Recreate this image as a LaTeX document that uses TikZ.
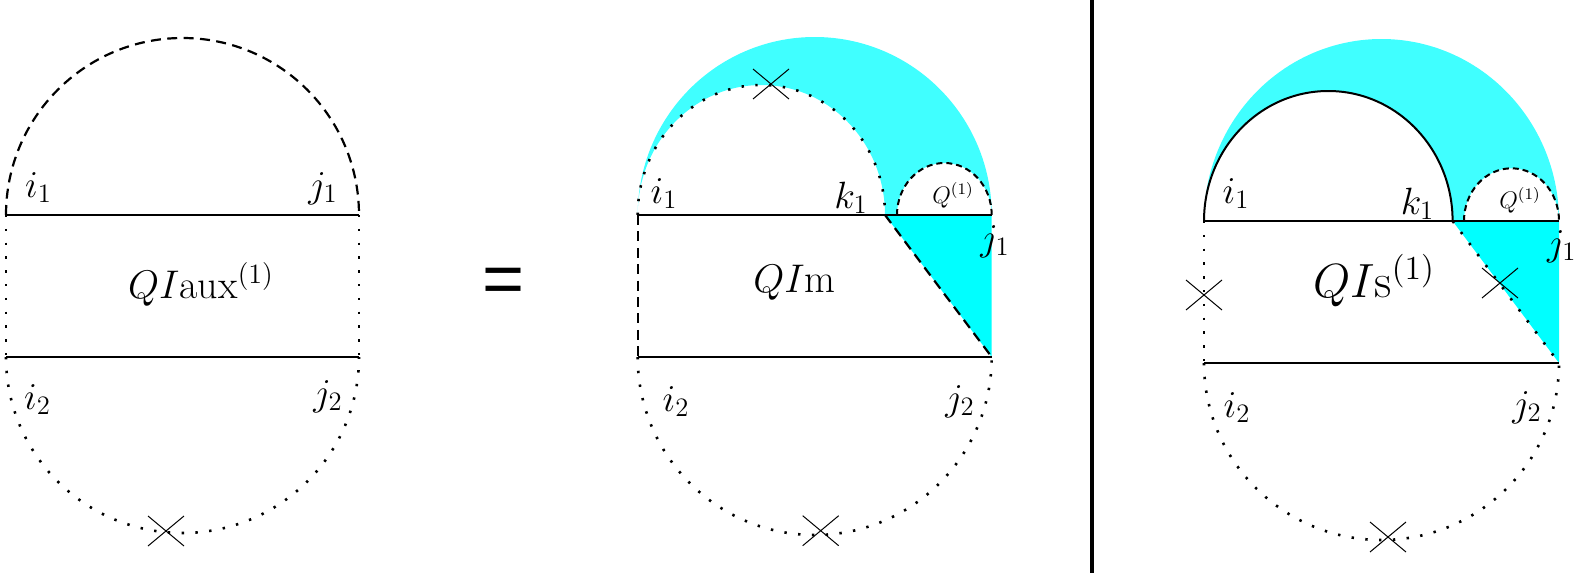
\RequirePackage{fix-cm}
\documentclass[tikz,border=0pt]{standalone}
\usepackage{fontspec}
\newfontfamily\eqfont{Liberation Sans}
\usetikzlibrary{shapes.misc}
\definecolor{upcyan}{RGB}{64,255,255}
\definecolor{lowcyan}{RGB}{0,255,255}
\tikzset{
 solidln/.style={line width=1pt},
 dashln/.style={line width=1.1pt, dash pattern=on 5pt off 3.2pt},
 dotln/.style={line width=1.3pt, dash pattern=on 1.2pt off 5.7pt},
 qdash/.style={line width=1pt, dash pattern=on 3pt off 2pt},
 xmark/.style={draw, cross out, line width=0.5pt, minimum width=17.5pt, minimum height=14.5pt, inner sep=0pt},
 lab/.style={inner sep=0pt, anchor=base, font=\fontsize{19}{22}\selectfont},
 mid/.style={inner sep=0pt, anchor=base, font=\fontsize{20}{24}\selectfont},
 large/.style={inner sep=0pt, anchor=base, font=\fontsize{24}{28}\selectfont},
 tiny/.style={inner sep=0pt, anchor=base, font=\fontsize{12}{14}\selectfont},
}
\begin{document}
\begin{tikzpicture}[x=0.5pt,y=-0.5pt]
\useasboundingbox (0,0) rectangle (1580,573);
% ---------- left figure ----------
\coordinate (aL) at (6,215);
\coordinate (aR) at (359,215);
\coordinate (aBL) at (6,357);
\coordinate (aBR) at (359,357);
\draw[dashln] (aL) arc[start angle=180, end angle=0, x radius=88.25pt, y radius=88.5pt];
\draw[dotln] (aBL) arc[start angle=180, end angle=360, x radius=88.25pt, y radius=88pt];
\draw[solidln] (aL) -- (aR);
\draw[solidln] (aBL) -- (aBR);
\draw[dotln] (aL) -- (aBL);
\draw[dotln] (aR) -- (aBR);
\node[xmark] (ax1) at (166,531) {};
\node[lab] (ai1) at (38.5,197) {$i_1$};
\node[lab] (aj1) at (323,197) {$j_1$};
\node[lab] (ai2) at (37.5,409) {$i_2$};
\node[lab] (aj2) at (328,405) {$j_2$};
\node[mid] (aqi) at (201,298) {$QI\mathrm{aux}^{(1)}$};
% ---------- equals ----------
\node[inner sep=0pt] (eq) at (504,286) {\eqfont\fontsize{36}{40}\selectfont =};
% ---------- middle figure ----------
\coordinate (mL) at (637.7,215);
\coordinate (mR) at (991.7,215);
\coordinate (mBL) at (637.7,357);
\coordinate (mBR) at (991.7,357);
\coordinate (mK) at (885,215);
\coordinate (mQ) at (897,215);
\fill[upcyan, even odd rule] (mL) arc[start angle=180, end angle=0, x radius=88.5pt, y radius=89pt] -- cycle
  (mL) arc[start angle=180, end angle=0, x radius=61.825pt, y radius=65pt] -- cycle
  (mQ) arc[start angle=180, end angle=0, x radius=23.675pt, y radius=26pt] -- cycle;
\fill[lowcyan] (mK) -- (mR) -- (mBR) -- cycle;
\draw[dotln] (mL) arc[start angle=180, end angle=0, x radius=61.825pt, y radius=65pt];
\draw[qdash] (mQ) arc[start angle=180, end angle=0, x radius=23.675pt, y radius=26pt];
\draw[solidln] (mL) -- (mR);
\draw[solidln] (mBL) -- (mBR);
\draw[dashln] (mL) -- (mBL);
\draw[dashln] (mK) -- (mBR);
\draw[dotln] (mBL) arc[start angle=180, end angle=360, x radius=88.5pt, y radius=89pt];
\node[xmark] (mx1) at (771,84) {};
\node[xmark] (mx2) at (820.7,530.7) {};
\node[lab] (mi1) at (664,203) {$i_1$};
\node[lab] (mk1) at (851,208) {$k_1$};
\node[tiny] (mq) at (953,203) {$Q^{(1)}$};
\node[lab] (mj1) at (995,250) {$j_1$};
\node[lab] (mi2) at (676,411) {$i_2$};
\node[lab] (mj2) at (960,410) {$j_2$};
\node[mid] (mqi) at (794.5,292) {$QI\mathrm{m}$};
% ---------- separator ----------
\coordinate (sT) at (1092,0);
\coordinate (sB) at (1092,573);
\draw[line width=1.6pt] (sT) -- (sB);
% ---------- right figure ----------
\coordinate (rL) at (1204,221);
\coordinate (rR) at (1559,221);
\coordinate (rBL) at (1204,363);
\coordinate (rBR) at (1559,363);
\coordinate (rK) at (1452.6,221);
\coordinate (rQ) at (1464,221);
\fill[upcyan, even odd rule] (rL) arc[start angle=180, end angle=0, x radius=88.75pt, y radius=91pt] -- cycle
  (rL) arc[start angle=180, end angle=0, x radius=62.15pt, y radius=65pt] -- cycle
  (rQ) arc[start angle=180, end angle=0, x radius=23.75pt, y radius=26.35pt] -- cycle;
\fill[lowcyan] (rK) -- (rR) -- (rBR) -- cycle;
\draw[solidln] (rL) arc[start angle=180, end angle=0, x radius=62.15pt, y radius=65pt];
\draw[qdash] (rQ) arc[start angle=180, end angle=0, x radius=23.75pt, y radius=26.35pt];
\draw[solidln] (rL) -- (rR);
\draw[solidln] (rBL) -- (rBR);
\draw[dotln] (rL) -- (rBL);
\draw[dotln] (rK) -- (rBR);
\draw[dotln] (rBL) arc[start angle=180, end angle=360, x radius=88.75pt, y radius=88.5pt];
\node[xmark] (rx1) at (1204,295) {};
\node[xmark] (rx2) at (1500,283) {};
\node[xmark] (rx3) at (1388,537) {};
\node[lab] (ri1) at (1236,203) {$i_1$};
\node[lab] (rk1) at (1417.5,214) {$k_1$};
\node[tiny] (rq) at (1520,208) {$Q^{(1)}$};
\node[lab] (rj1) at (1561.7,255) {$j_1$};
\node[lab] (ri2) at (1237,417) {$i_2$};
\node[lab] (rj2) at (1527,416) {$j_2$};
\node[large] (rqi) at (1374,297) {$QI\mathrm{s}^{(1)}$};
\end{tikzpicture}
\end{document}
